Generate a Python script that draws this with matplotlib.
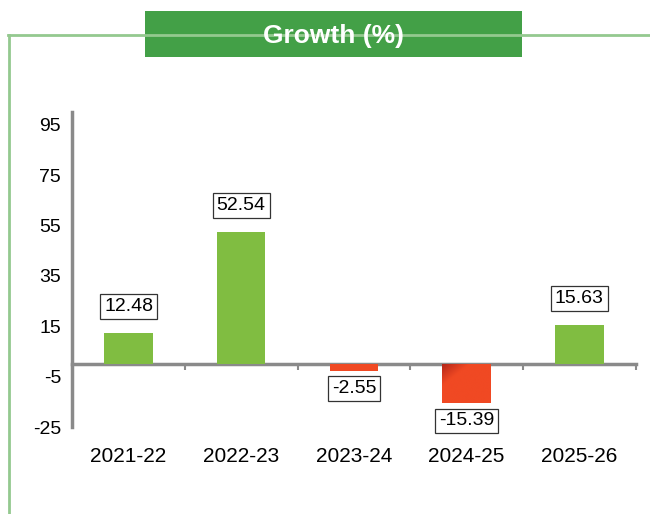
import matplotlib as mpl
mpl.use("Agg")
import matplotlib.pyplot as plt
from matplotlib.patches import Rectangle
from matplotlib.lines import Line2D
import numpy as np

mpl.rcParams["font.family"] = ["Liberation Sans", "DejaVu Sans"]
mpl.rcParams["axes.unicode_minus"] = False

years = ["2021-22", "2022-23", "2023-24", "2024-25", "2025-26"]
growth = [12.48, 52.54, -2.55, -15.39, 15.63]
yticks = [-25, -5, 15, 35, 55, 75, 95]

green = "#80bd41"
red = "#f04923"
grey = "#8a8a8a"
frame_green = "#94c98f"

fig = plt.figure(figsize=(6.5, 5.14), dpi=100)
ax = fig.add_axes([0.111, 0.169, 0.867, 0.613])

x = np.arange(len(years))
colors = [green if v >= 0 else red for v in growth]
bars = ax.bar(x, growth, width=0.43, color=colors, zorder=2)

# dark corner shading on the biggest drop (top-left)
b = bars[3]
grad = np.linspace(0, 1, 64)
gx, gy = np.meshgrid(grad, grad)
shade = np.clip((gx + gy) * 1.8, 0, 1)
cmap = mpl.colors.LinearSegmentedColormap.from_list("r", ["#b42619", red])
img = ax.imshow(shade, cmap=cmap, aspect="auto", zorder=3, origin="upper",
                extent=[b.get_x(), b.get_x() + b.get_width(),
                        b.get_y() + b.get_height(), b.get_y()])
img.set_clip_path(b)

for xi, v in zip(x, growth):
    off = 19 if v >= 0 else -13
    ax.annotate(f"{v:.2f}", (xi, v), xytext=(0, off), textcoords="offset points",
                ha="center", va="center", fontsize=14, zorder=4,
                bbox=dict(boxstyle="square,pad=0.2", fc="white", ec="#333333", lw=0.9))

ax.set_xlim(-0.5, len(years) - 0.5)
ax.set_ylim(-25, 100)
ax.set_yticks(yticks)
ax.set_xticks(x)
ax.set_xticklabels(years, fontsize=15)
ax.tick_params(axis="x", length=0, pad=14)
ax.tick_params(axis="y", length=0, labelsize=14, pad=8)

for s in ["top", "right", "bottom"]:
    ax.spines[s].set_visible(False)
ax.spines["left"].set_color(grey)
ax.spines["left"].set_linewidth(2.5)

# zero line with category dividers
zero = ax.secondary_xaxis(25 / 125)
zero.set_xticks(np.arange(len(years) + 1) - 0.5)
zero.tick_params(direction="out", length=4, width=1.5, color=grey,
                 labelbottom=False, labeltop=False)
zero.spines["bottom"].set_color(grey)
zero.spines["bottom"].set_linewidth(2.5)

# outer frame and title banner
fig.add_artist(Line2D([0.0123, 1.0], [0.932, 0.932], color=frame_green, lw=2))
fig.add_artist(Line2D([0.0138, 0.0138], [0.0, 0.932], color=frame_green, lw=2))
fig.add_artist(Rectangle((0.223, 0.889), 0.58, 0.0896, transform=fig.transFigure,
                         facecolor="#43a047", edgecolor="none"))
fig.text(0.513, 0.930, "Growth (%)", ha="center", va="center", color="white",
         fontsize=19, fontweight="bold")

fig.savefig("out.png", dpi=100)
